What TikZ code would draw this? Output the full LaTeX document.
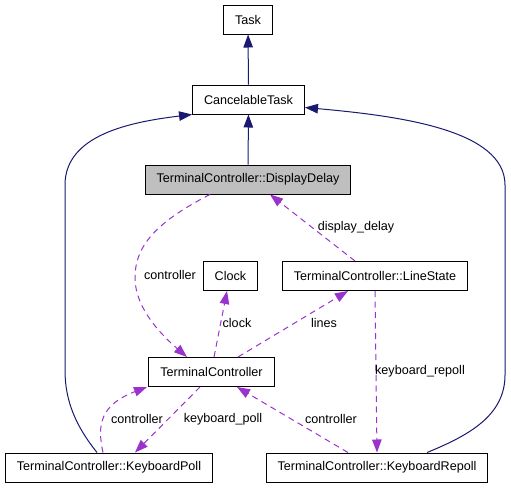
\documentclass[tikz,border=0pt]{standalone}
\usepackage{fontspec}
\setmainfont{Liberation Sans}
\usepackage{tikz}
\usetikzlibrary{arrows.meta}
\definecolor{navyline}{HTML}{191970}
\definecolor{usepurple}{HTML}{9A32CD}
\definecolor{boxgray}{HTML}{BFBFBF}

\begin{document}
\begin{tikzpicture}[x=1pt, y=-1pt, font=\fontsize{12.6}{15}\selectfont,
    cls/.style={draw, line width=1pt, fill=white, minimum height=29pt, inner xsep=11.5pt, inner ysep=0pt},
    inherit/.style={draw=navyline, line width=1pt, -{Triangle[length=13pt, width=9.5pt]}},
    uses/.style={draw=usepurple, line width=1pt, dash pattern=on 6pt off 4.5pt, -{Triangle[length=13pt, width=9.5pt]}},
    lbl/.style={inner sep=0pt}]
    \useasboundingbox (0,0) rectangle (511,488);

    \node[cls] (1) at (248, 19.5) {Task};
    \node[cls] (2) at (248.5, 99.5) {CancelableTask};
    \node[cls, fill=boxgray] (3) at (248, 179.5) {TerminalController::DisplayDelay};
    \node[cls] (4) at (230.5, 276) {Clock};
    \node[cls] (5) at (375, 276) {TerminalController::LineState};
    \node[cls] (6) at (211.5, 372) {TerminalController};
    \node[cls] (7) at (109, 467.5) {TerminalController::KeyboardPoll};
    \node[cls] (8) at (377, 467.5) {TerminalController::KeyboardRepoll};

    % inheritance
    \draw[inherit] (2) -- (1);
    \draw[inherit] (3) -- (2);
    \draw[inherit] ([xshift=-12pt]7.north) .. controls (75,425) and (65,400) .. (65,370) -- (65,185) .. controls (65,135) and (130,122) .. (2.south west);
    \draw[inherit] ([xshift=50pt]8.north) .. controls (470,435) and (505,415) .. (505,375) -- (505,185) .. controls (505,130) and (400,116) .. ([yshift=-8pt]2.east);

    % usage
    \draw[uses] ([xshift=-38pt]3.south) .. controls (150,225) and (135,250) .. (135,278) .. controls (135,310) and (165,338) .. ([xshift=-24.5pt]6.north);
    \draw[uses] ([xshift=-20pt]5.north) -- ([xshift=22pt]3.south);
    \draw[uses] ([xshift=2.5pt]6.north) -- ([xshift=-3.5pt]4.south);
    \draw[uses] ([xshift=26.5pt]6.north) -- ([xshift=-27pt]5.south);
    \draw[uses] (5.south) -- (8.north);
    \draw[uses] ([xshift=-6pt]7.north) .. controls (97,425) and (100,405) .. ([xshift=-64.5pt]6.south);
    \draw[uses] ([xshift=-11.5pt]6.south) -- ([xshift=26pt]7.north);
    \draw[uses] ([xshift=-29pt]8.north) -- ([xshift=25.5pt]6.south);

    \node[lbl] (l1) at (170, 275) {controller};
    \node[lbl] (l2) at (356, 227) {display\_delay};
    \node[lbl] (l3) at (237, 323) {clock};
    \node[lbl] (l4) at (324, 323) {lines};
    \node[lbl] (l5) at (420, 371) {keyboard\_repoll};
    \node[lbl] (l6) at (137, 419) {controller};
    \node[lbl] (l7) at (223, 419) {keyboard\_poll};
    \node[lbl] (l8) at (331, 419) {controller};
\end{tikzpicture}
\end{document}
